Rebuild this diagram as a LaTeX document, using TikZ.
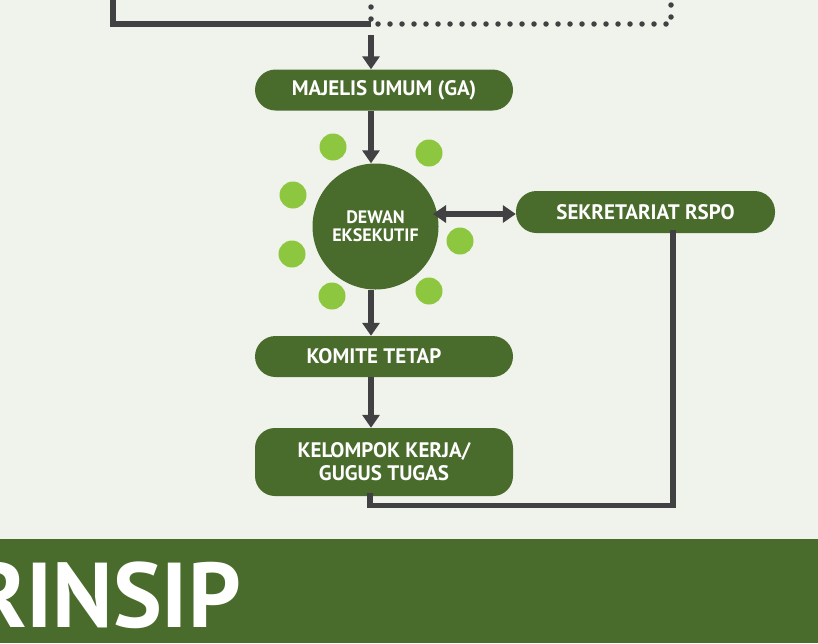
\documentclass[tikz,border=0pt]{standalone}
\usepackage{fontspec}
\setmainfont{PT Sans}
\usetikzlibrary{arrows.meta}
\definecolor{bgc}{HTML}{F0F3EC}
\definecolor{dgreen}{HTML}{496B2B}
\definecolor{lgreen}{HTML}{8DC63F}
\definecolor{lgray}{HTML}{414042}
\tikzset{
  pill/.style={fill=dgreen, rounded corners=20.5pt, minimum width=258pt, minimum height=41pt, text=white, font=\bfseries\fontsize{21}{23}\selectfont, inner sep=0pt, align=center},
  conn/.style={draw=lgray, line width=5.5pt},
  arr/.style={conn, -{Triangle[width=17pt,length=13pt]}},
  darr/.style={conn, {Triangle[width=17pt,length=13pt]}-{Triangle[width=17pt,length=13pt]}},
  dotline/.style={draw=lgray, line width=5.5pt, line cap=round, dash pattern=on 0pt off 12pt},
  dot/.style={circle, fill=lgreen, minimum size=27pt, inner sep=0pt},
  hub/.style={circle, fill=dgreen, minimum size=126pt, inner sep=0pt, text=white, align=center, font=\bfseries\fontsize{18}{18}\selectfont},
}
\begin{document}
\begin{tikzpicture}[x=1pt,y=-1pt]
\useasboundingbox (0,0) rectangle (818,643);
\fill[bgc] (0,0) rectangle (818,643);
\fill[dgreen] (0,539) rectangle (818,643);
\begin{scope}
\clip (0,0) rectangle (818,643);
\node[anchor=base east, text=white, font=\bfseries\fontsize{92}{92}\selectfont, inner sep=0pt] (title) at (241,627) {RINSIP};
\end{scope}
% top lines
\coordinate (tl) at (113,-5);
\coordinate (j) at (371,24);
\coordinate (tr) at (671,-5);
\coordinate (jt) at (371,-5);
\coordinate (as) at (371,35);
\draw[conn] (tl) |- (j);
\draw[dotline] (jt) -- (j) -- (671,24) -- (tr);
% nodes
\node[pill] (ga) at (384,90) {MAJELIS UMUM (GA)};
\node[hub] (ex) at (375.5,226.5) {DEWAN\\EKSEKUTIF};
\node[pill, minimum width=259pt, minimum height=42pt] (sek) at (645.5,212) {SEKRETARIAT RSPO};
\node[pill] (km) at (384,356.5) {\hspace*{-20pt}KOMITE TETAP};
\node[pill, minimum height=68pt, rounded corners=20pt] (kel) at (384,462) {KELOMPOK KERJA/\\GUGUS TUGAS};
% dots
\foreach \p/\n in {{(333,147)}/d1,{(429,153)}/d2,{(293,195)}/d3,{(460,241)}/d4,{(292,254)}/d5,{(332,296)}/d6,{(429,291)}/d7}
  \node[dot] (\n) at \p {};
% connectors
\draw[arr] (as) -- (as |- ga.north);
\draw[arr] (ga.south -| as) -- (ex.north -| as);
\draw[arr] (ex.south -| as) -- (km.north -| as);
\draw[arr] (km.south -| as) -- (kel.north -| as);
\coordinate (dl) at (433,214);
\draw[darr] (dl) -- (sek.west |- dl);
\coordinate (r1) at (673,230);
\coordinate (r2) at (370,493);
\draw[conn] (r1) |- (370,505.5) -- (r2);
\end{tikzpicture}
\end{document}
